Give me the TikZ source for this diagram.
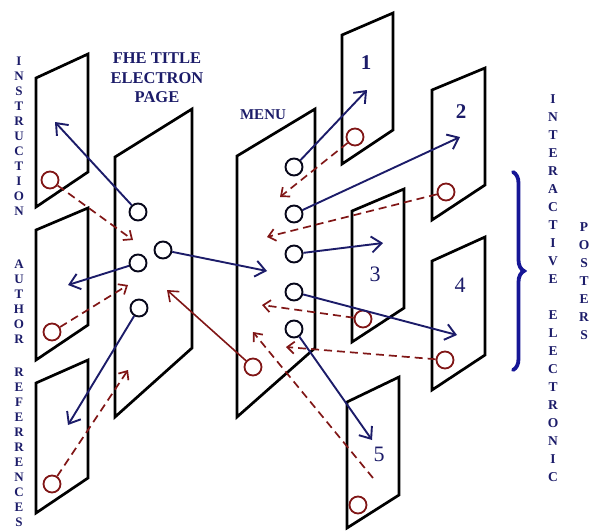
\documentclass[tikz,border=0pt]{standalone}
\usepackage{fontspec}
\setmainfont{Liberation Serif}
\usetikzlibrary{arrows.meta,decorations.pathreplacing}
\definecolor{navy}{RGB}{28,28,105}
\definecolor{dred}{RGB}{128,22,22}
\definecolor{bracec}{RGB}{22,22,150}
\begin{document}
\begin{tikzpicture}[x=1pt,y=-1pt,
 panel/.style={draw=black,line width=2.7pt,line join=miter},
 bcirc/.style={circle,draw=black!75!navy,fill=white,line width=1.9pt,minimum size=17pt,inner sep=0pt},
 rcirc/.style={circle,draw=dred,line width=1.8pt,minimum size=17pt,inner sep=0pt},
 navyarrow/.style={draw=navy,line width=1.9pt,-{Straight Barb[length=10pt,width=16pt,line width=1.9pt]}},
 redarrow/.style={draw=dred,line width=1.7pt,dash pattern=on 8pt off 5pt,-{Straight Barb[length=7pt,width=12pt,line width=1.7pt]}},
 redsolid/.style={draw=dred,line width=1.6pt,-{Straight Barb[length=9pt,width=14pt,line width=1.6pt]}},
 vlabL/.style={font=\fontsize{13}{15}\selectfont\bfseries,text=navy,align=center,inner sep=0pt},
 vlabR/.style={font=\fontsize{13.5}{18}\selectfont\bfseries,text=navy,align=center,inner sep=0pt},
 title/.style={font=\fontsize{16.5}{19.5}\selectfont\bfseries,text=navy,align=center,inner sep=0pt},
 numb/.style={font=\fontsize{21}{21}\selectfont\bfseries,text=navy,inner sep=0pt},
 numr/.style={font=\fontsize{22}{22}\selectfont,text=navy,inner sep=0pt}
]
\useasboundingbox (0,0) rectangle (591,530);

% panels
\draw[panel] (36,78) -- (88,54) -- (88,172) -- (36,207) -- cycle;
\draw[panel] (36,230) -- (88,208) -- (88,325) -- (36,360) -- cycle;
\draw[panel] (36,383) -- (88,360) -- (88,478) -- (36,513) -- cycle;
\draw[panel] (115,157) -- (192,109) -- (192,348) -- (115,417) -- cycle;
\draw[panel] (237,156) -- (315,109) -- (315,348) -- (237,417) -- cycle;
\draw[panel] (342,35) -- (393,13) -- (393,130) -- (342,164) -- cycle;
\draw[panel] (432,90) -- (485,68) -- (485,185) -- (432,220) -- cycle;
\draw[panel] (352,211) -- (404,189) -- (404,308) -- (352,342) -- cycle;
\draw[panel] (432,261) -- (485,237) -- (485,355) -- (432,390) -- cycle;
\draw[panel] (347,402) -- (399,377) -- (399,495) -- (347,528) -- cycle;

% texts
\node[title] (ttl) at (157,78) {FHE TITLE\\ELECTRON\\PAGE};
\node[font=\fontsize{15}{15}\selectfont\bfseries,text=navy,inner sep=0pt] (menu) at (263,115) {MENU};
\node[numb] (n1) at (366,63) {1};
\node[numb] (n2) at (461,112) {2};
\node[numr] (n3) at (375,274) {3};
\node[numr] (n4) at (460,285) {4};
\node[numr] (n5) at (379,454) {5};

\node[vlabL] (lins) at (19,136) {I\\N\\S\\T\\R\\U\\C\\T\\I\\O\\N};
\node[vlabL] (laut) at (19,302) {A\\U\\T\\H\\O\\R};
\node[vlabL] (lref) at (19,447) {R\\E\\F\\E\\R\\R\\E\\N\\C\\E\\S};
\node[vlabR] (lint) at (553,288) {I\\N\\T\\E\\R\\A\\C\\T\\I\\V\\E\\[18pt]E\\L\\E\\C\\T\\R\\O\\N\\I\\C};
\node[vlabR] (lpos) at (584,281) {P\\O\\S\\T\\E\\R\\S};

% brace
\draw[bracec,line width=3.8pt,line cap=round,decorate,decoration={brace,amplitude=11pt}] (513,172) -- (513,370);

% circles
\node[bcirc] (t1) at (138,212) {};
\node[bcirc] (t2) at (163,250) {};
\node[bcirc] (t3) at (138,263) {};
\node[bcirc] (t4) at (139,308) {};
\node[bcirc] (m1) at (294,167) {};
\node[bcirc] (m2) at (294,214) {};
\node[bcirc] (m3) at (294,254) {};
\node[bcirc] (m4) at (294,292) {};
\node[bcirc] (m5) at (294,329) {};

\node[rcirc] (rI) at (50,180) {};
\node[rcirc] (rA) at (52,332) {};
\node[rcirc] (rR) at (52,484) {};
\node[rcirc] (r1) at (355,137) {};
\node[rcirc] (r2) at (446,192) {};
\node[rcirc] (r3) at (363,319) {};
\node[rcirc] (r4) at (445,360) {};
\node[rcirc] (r5) at (358,505) {};
\node[rcirc] (rM) at (253,367) {};

% tip coordinates
\coordinate (instip) at (55,122);
\coordinate (authtip) at (68,285);
\coordinate (reftip) at (68,425);
\coordinate (menutip) at (267,271);
\coordinate (p1tip) at (367,90);
\coordinate (p2tip) at (460,137);
\coordinate (p3tip) at (383,243);
\coordinate (p4tip) at (457,335);
\coordinate (p5tip) at (372,440);
\coordinate (tI) at (133,240);
\coordinate (tA) at (128,285);
\coordinate (tR) at (128,370);
\coordinate (t1r) at (280,197);
\coordinate (t2r) at (267,237);
\coordinate (t3r) at (262,305);
\coordinate (t4r) at (286,347);
\coordinate (t5r) at (253,332);
\coordinate (s5) at (373,478);
\coordinate (tM) at (167,290);

% navy arrows
\draw[navyarrow] (t1) -- (instip);
\draw[navyarrow] (t3) -- (authtip);
\draw[navyarrow] (t4) -- (reftip);
\draw[navyarrow] (t2) -- (menutip);
\draw[navyarrow] (m1) -- (p1tip);
\draw[navyarrow] (m2) -- (p2tip);
\draw[navyarrow] (m3) -- (p3tip);
\draw[navyarrow] (m4) -- (p4tip);
\draw[navyarrow] (m5) -- (p5tip);

% red arrows
\draw[redarrow] (rI) -- (tI);
\draw[redarrow] (rA) -- (tA);
\draw[redarrow] (rR) -- (tR);
\draw[redarrow] (r1) -- (t1r);
\draw[redarrow] (r2) -- (t2r);
\draw[redarrow] (r3) -- (t3r);
\draw[redarrow] (r4) -- (t4r);
\draw[redarrow] (s5) -- (t5r);
\draw[redsolid] (rM) -- (tM);
\end{tikzpicture}
\end{document}
